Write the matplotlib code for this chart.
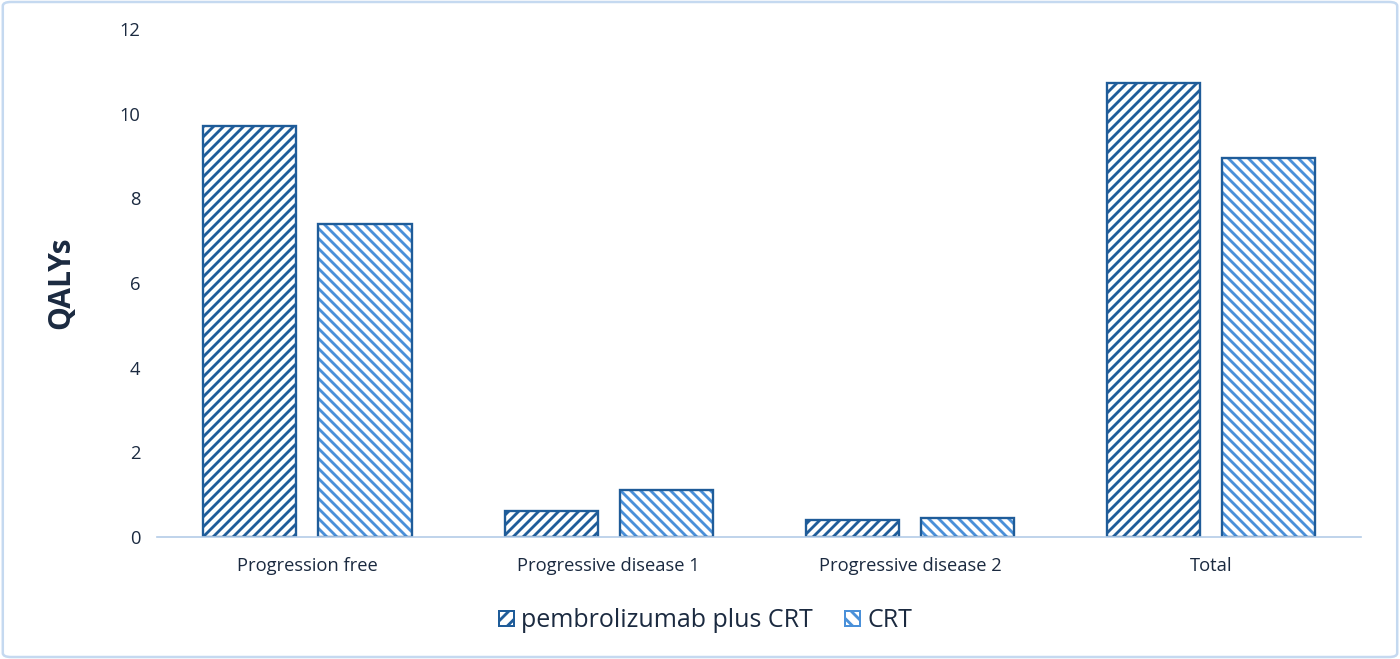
import matplotlib
matplotlib.use("Agg")
import matplotlib.pyplot as plt
import numpy as np
from matplotlib.patches import FancyBboxPatch, Patch

plt.rcParams['font.family'] = ['Open Sans', 'DejaVu Sans']
plt.rcParams['hatch.linewidth'] = 1.7

# data
categories = ['Progression free', 'Progressive disease 1', 'Progressive disease 2', 'Total']
series_names = ['pembrolizumab plus CRT', 'CRT']
pembro = [9.71, 0.61, 0.40, 10.72]
crt = [7.39, 1.11, 0.45, 8.95]

dark = '#1F5C99'
light = '#4A90D9'
text_col = '#1B2A40'

fig = plt.figure(figsize=(1400 / 120, 659 / 120), dpi=120)
ax = fig.add_axes([0.112, 0.185, 0.860, 0.771])

x = np.arange(len(categories))
w = 0.309
off = 0.191

# hatch fill first, then outline on top (hatch colour differs from edge colour)
ax.bar(x - off, pembro, w, color='white', hatch='////', edgecolor=dark, linewidth=0)
ax.bar(x + off, crt, w, color='white', hatch='\\\\\\\\', edgecolor=light, linewidth=0)
ax.bar(x - off, pembro, w, fill=False, edgecolor=dark, linewidth=1.4)
ax.bar(x + off, crt, w, fill=False, edgecolor=dark, linewidth=1.4)

ax.set_xlim(-0.5, 3.496)
ax.set_ylim(0, 12)
ax.set_yticks(range(0, 13, 2))
ax.set_xticks(x)
ax.set_xticklabels(categories)
ax.tick_params(axis='both', length=0, labelsize=11, labelcolor=text_col)
ax.tick_params(axis='y', pad=10)
ax.tick_params(axis='x', pad=12)

for s in ['top', 'right', 'left']:
    ax.spines[s].set_visible(False)
ax.spines['bottom'].set_color('#B4CCE8')
ax.spines['bottom'].set_linewidth(1.0)

ax.set_ylabel('QALYs', fontsize=18, fontweight='bold', color=text_col, labelpad=26)

handles = [
    Patch(facecolor='white', edgecolor=dark, hatch='///', linewidth=1.2),
    Patch(facecolor='white', edgecolor=light, hatch='\\\\\\', linewidth=1.2),
]
fig.legend(handles, series_names, loc='center', bbox_to_anchor=(0.504, 0.058),
           ncol=2, frameon=False, fontsize=15, labelcolor=text_col,
           handlelength=0.6, handleheight=0.6, handletextpad=0.3, columnspacing=1.3)

border = FancyBboxPatch((0.002, 0.003), 0.996, 0.994, boxstyle='round,pad=0,rounding_size=0.006',
                        transform=fig.transFigure, fill=False, edgecolor='#C5D9F0', linewidth=1.5)
fig.patches.append(border)

fig.savefig('out.png', dpi=120, facecolor='white')
